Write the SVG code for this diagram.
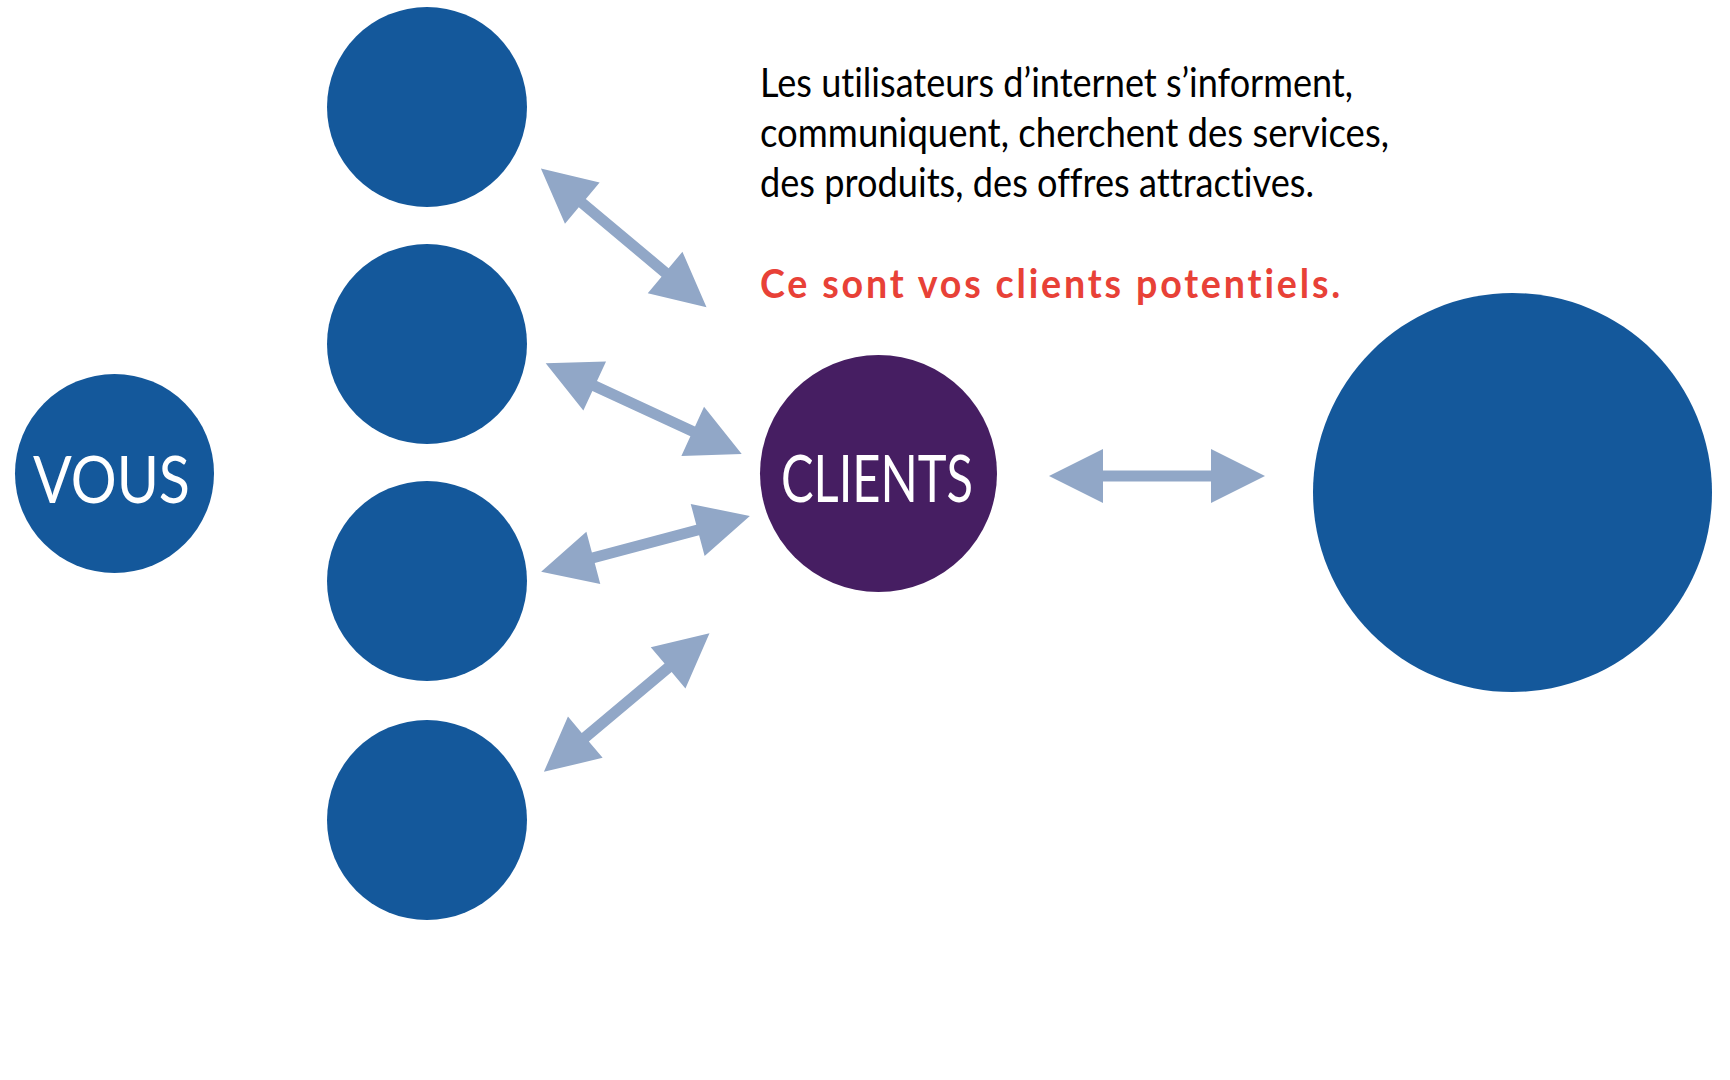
<svg xmlns="http://www.w3.org/2000/svg" xmlns:xlink="http://www.w3.org/1999/xlink" width="1730" height="1080" viewBox="0 0 1730 1080">
  <style>
    text { font-variant-ligatures: none; font-feature-settings: "liga" 0, "clig" 0; }
    .blue { fill: #14589B; }
    .purple { fill: #461E62; }
    .arrow { fill: #91A7C7; }
    .label { font-family: "Lato", "Liberation Sans", sans-serif; font-size: 66px; fill: #FFFFFF; text-anchor: middle; }
    .body { font-family: "Lato", "Liberation Sans", sans-serif; font-size: 40px; fill: #000000; }
    .accent { font-family: "Lato", "Liberation Sans", sans-serif; font-size: 40px; font-weight: bold; fill: #E84137; letter-spacing: 3px; }
  </style>
  <defs>
    <polygon id="dblArrow" points="-108,0 -54,-27 -54,-5.5 54,-5.5 54,-27 108,0 54,27 54,5.5 -54,5.5 -54,27"/>
  </defs>
  <rect width="1730" height="1080" fill="#FFFFFF"/>

  <g id="connectors" class="arrow">
    <use xlink:href="#dblArrow" href="#dblArrow" transform="translate(623.7,237.8) rotate(39.94)"/>
    <use xlink:href="#dblArrow" href="#dblArrow" transform="translate(643.7,408.7) rotate(24.83)"/>
    <use xlink:href="#dblArrow" href="#dblArrow" transform="translate(645.5,543.9) rotate(-14.92)"/>
    <use xlink:href="#dblArrow" href="#dblArrow" transform="translate(626.7,702.5) rotate(-39.94)"/>
    <use xlink:href="#dblArrow" href="#dblArrow" transform="translate(1157,476)"/>
  </g>

  <g id="node-vous">
    <circle class="blue" cx="114.5" cy="473.5" r="99.5"/>
    <text class="label" x="111.5" y="503" textLength="157" lengthAdjust="spacingAndGlyphs">VOUS</text>
  </g>
  <g id="node-1"><circle class="blue" cx="427" cy="107" r="100"/></g>
  <g id="node-2"><circle class="blue" cx="427" cy="344" r="100"/></g>
  <g id="node-3"><circle class="blue" cx="427" cy="581" r="100"/></g>
  <g id="node-4"><circle class="blue" cx="427" cy="820" r="100"/></g>
  <g id="node-clients">
    <circle class="purple" cx="878.5" cy="473.5" r="118.5"/>
    <text class="label" x="877" y="502" textLength="192" lengthAdjust="spacingAndGlyphs">CLIENTS</text>
  </g>
  <g id="node-big"><circle class="blue" cx="1512.5" cy="492.5" r="199.5"/></g>

  <g id="description">
    <text class="body" x="760" y="97" textLength="593" lengthAdjust="spacingAndGlyphs">Les utilisateurs d’internet s’informent,</text>
    <text class="body" x="760" y="147" textLength="629" lengthAdjust="spacingAndGlyphs">communiquent, cherchent des services,</text>
    <text class="body" x="760" y="197" textLength="554" lengthAdjust="spacingAndGlyphs">des produits, des offres attractives.</text>
    <text class="accent" x="760" y="298" textLength="583" lengthAdjust="spacingAndGlyphs">Ce sont vos clients potentiels.</text>
  </g>
</svg>
